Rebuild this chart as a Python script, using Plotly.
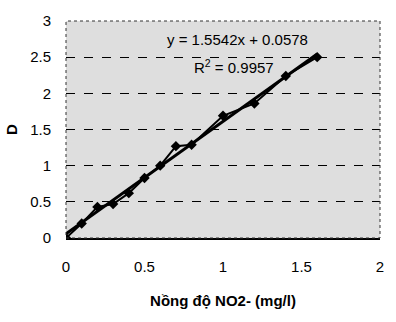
import plotly.graph_objects as go

conc = [0, 0.1, 0.2, 0.3, 0.4, 0.5, 0.6, 0.7, 0.8, 1.0, 1.2, 1.4, 1.6]
absorb = [0, 0.2, 0.43, 0.47, 0.62, 0.83, 1.0, 1.27, 1.29, 1.69, 1.86, 2.24, 2.5]
slope = 1.5542
intercept = 0.0578
eq_text = "y = 1.5542x + 0.0578"
r2_text = "R<sup>2</sup> = 0.9957"
x_ticks = [0, 0.5, 1, 1.5, 2]
y_ticks = [0, 0.5, 1, 1.5, 2, 2.5, 3]

fit_x = [conc[0], conc[-1]]
fit_y = [slope * v + intercept for v in fit_x]

fig = go.Figure()
fig.add_trace(go.Scatter(x=fit_x, y=fit_y, mode="lines",
                         line=dict(color="black", width=3), showlegend=False))
fig.add_trace(go.Scatter(x=conc, y=absorb, mode="lines+markers",
                         line=dict(color="black", width=2),
                         marker=dict(symbol="diamond", size=8, color="black"),
                         showlegend=False))

fig.add_annotation(x=1.09, y=2.74, xref="x", yref="y", text=eq_text, showarrow=False,
                   font=dict(family="Liberation Sans Narrow, Arial", size=15, color="black"))
fig.add_annotation(x=1.07, y=2.37, xref="x", yref="y", text=r2_text, showarrow=False,
                   font=dict(family="Liberation Sans Narrow, Arial", size=15, color="black"))

# dotted plot-area frame
fig.add_shape(type="rect", xref="paper", yref="paper", x0=0, y0=0, x1=1, y1=1,
              line=dict(color="#333333", width=1, dash="dot"), layer="above")

fig.update_layout(
    width=396, height=322,
    margin=dict(l=64, r=16, t=14, b=84),
    paper_bgcolor="white", plot_bgcolor="#dedede",
    font=dict(family="Arial, Liberation Sans", size=15, color="black"),
    xaxis=dict(range=[0, 2], tickvals=x_ticks, ticktext=[str(v) for v in x_ticks],
               showgrid=False, zeroline=False, showline=True, linecolor="black",
               linewidth=1.5, ticks="", ticklabelstandoff=14,
               title=dict(text="<b>Nồng độ NO2- (mg/l)</b>", standoff=22,
                          font=dict(size=15))),
    yaxis=dict(range=[0, 3], tickvals=y_ticks, ticktext=[str(v) for v in y_ticks],
               showgrid=True, gridcolor="black", griddash="dash", gridwidth=1,
               zeroline=False, showline=False, ticks="", ticklabelstandoff=14,
               title=dict(text="<b>D</b>", standoff=8, font=dict(size=15))),
)

fig.write_html("out.html")
